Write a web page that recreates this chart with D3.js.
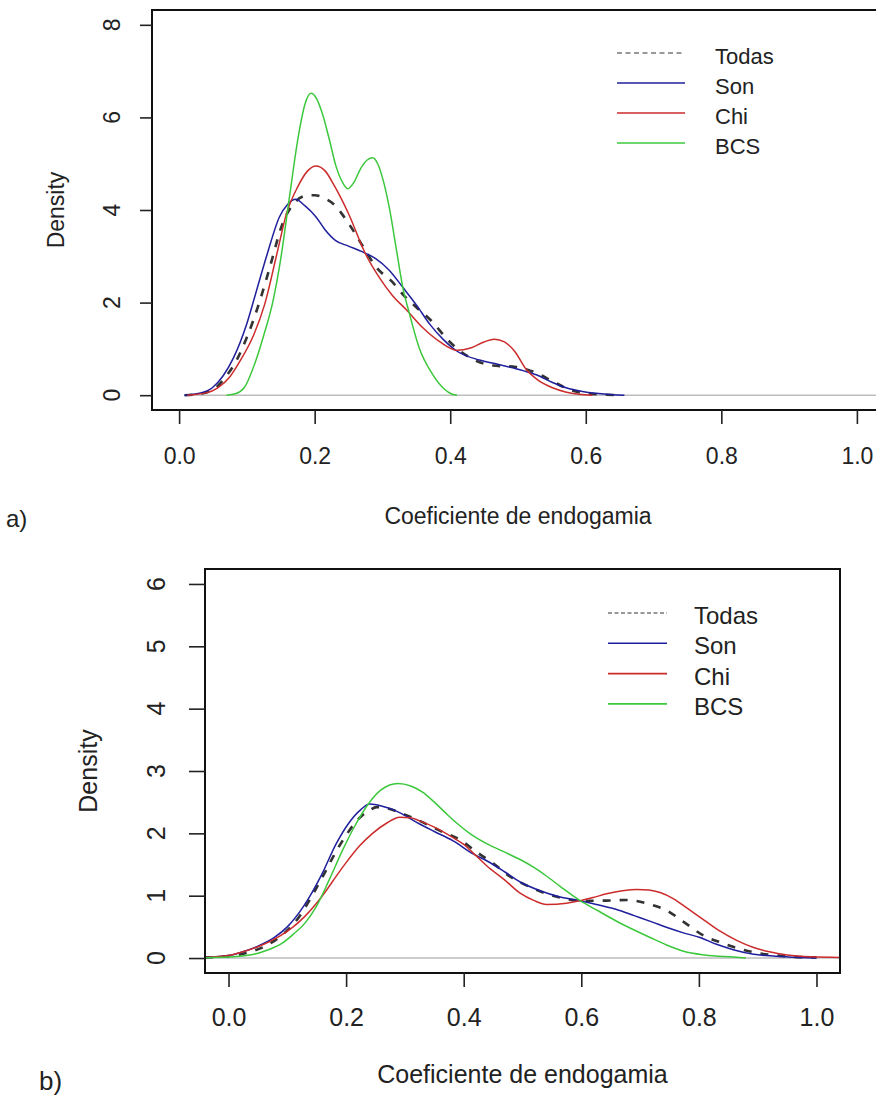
<!DOCTYPE html>
<html>
<head>
<meta charset="utf-8">
<script src="https://cdn.jsdelivr.net/npm/d3@7"></script>
<style>
  body { margin: 0; background: #fff; }
  text { font-family: "Liberation Sans", Arial, sans-serif; fill: #222; }
</style>
</head>
<body>
<div id="chart"></div>
<script>
// tick labels and series names
var xTicks = [0, 0.2, 0.4, 0.6, 0.8, 1.0];
var yTicksA = [0, 2, 4, 6, 8];
var yTicksB = [0, 1, 2, 3, 4, 5, 6];
var seriesNames = ['Todas', 'Son', 'Chi', 'BCS'];
var seriesColors = ['#333333', '#1f1f9e', '#cc2b2b', '#3cc83c'];

// panel a) density curves, [coeficiente, density]
var todasA = [[0.008,0],[0.035,0.04],[0.054,0.16],[0.07,0.42],[0.085,0.76],[0.1,1.25],[0.111,1.68],[0.12,2.08],[0.133,2.72],[0.153,3.72],[0.17,4.15],[0.185,4.3],[0.2,4.32],[0.215,4.25],[0.23,4.1],[0.241,3.9],[0.255,3.6],[0.266,3.34],[0.28,3.0],[0.29,2.78],[0.315,2.44],[0.33,2.18],[0.35,1.9],[0.374,1.58],[0.396,1.2],[0.415,0.95],[0.433,0.78],[0.463,0.64],[0.497,0.61],[0.527,0.48],[0.551,0.3],[0.576,0.12],[0.6,0.04],[0.63,0.01],[0.65,0]];
var sonA = [[0.008,0],[0.03,0.04],[0.049,0.16],[0.065,0.42],[0.08,0.8],[0.1,1.55],[0.115,2.3],[0.13,3.05],[0.148,3.85],[0.16,4.12],[0.172,4.23],[0.185,4.1],[0.202,3.85],[0.215,3.58],[0.231,3.34],[0.25,3.22],[0.27,3.1],[0.29,2.95],[0.31,2.7],[0.33,2.33],[0.35,1.95],[0.37,1.53],[0.39,1.2],[0.409,0.96],[0.443,0.76],[0.47,0.67],[0.492,0.59],[0.51,0.52],[0.527,0.44],[0.55,0.28],[0.571,0.16],[0.595,0.08],[0.615,0.04],[0.64,0.01],[0.657,0]];
var chiA = [[0.012,0],[0.04,0.05],[0.057,0.16],[0.075,0.4],[0.09,0.74],[0.11,1.3],[0.126,1.95],[0.145,3.1],[0.158,3.9],[0.175,4.5],[0.19,4.85],[0.202,4.95],[0.215,4.85],[0.23,4.5],[0.25,3.92],[0.275,3.05],[0.295,2.55],[0.315,2.15],[0.335,1.85],[0.36,1.45],[0.385,1.15],[0.41,0.97],[0.43,1.02],[0.45,1.15],[0.465,1.21],[0.48,1.15],[0.495,0.95],[0.512,0.56],[0.53,0.32],[0.551,0.16],[0.57,0.07],[0.59,0.02],[0.61,0]];
var bcsA = [[0.07,0],[0.083,0.03],[0.096,0.16],[0.113,0.74],[0.125,1.3],[0.138,2.0],[0.15,2.95],[0.163,4.3],[0.176,5.6],[0.186,6.3],[0.1945,6.52],[0.203,6.4],[0.212,6.05],[0.222,5.5],[0.231,4.97],[0.241,4.6],[0.249,4.46],[0.258,4.6],[0.268,4.9],[0.2775,5.08],[0.2856,5.13],[0.293,5.0],[0.30,4.7],[0.31,4.06],[0.32,3.2],[0.33,2.33],[0.34,1.75],[0.354,1.03],[0.374,0.45],[0.39,0.15],[0.403,0.02],[0.41,0]];

// panel b) density curves
var todasB = [[-0.04,0.01],[0.0,0.03],[0.03,0.08],[0.06,0.18],[0.0925,0.38],[0.12,0.66],[0.141,0.98],[0.161,1.32],[0.18,1.66],[0.2,1.97],[0.22,2.22],[0.24,2.37],[0.252,2.42],[0.27,2.4],[0.3,2.3],[0.325,2.2],[0.36,2.04],[0.393,1.9],[0.422,1.7],[0.45,1.52],[0.48,1.3],[0.51,1.15],[0.552,1.0],[0.598,0.92],[0.632,0.92],[0.678,0.93],[0.717,0.86],[0.746,0.76],[0.774,0.58],[0.808,0.36],[0.84,0.24],[0.865,0.16],[0.9,0.08],[0.922,0.05],[0.96,0.02],[1.0,0.01]];
var sonB = [[-0.04,0.01],[0.0,0.04],[0.019,0.085],[0.05,0.19],[0.078,0.33],[0.1,0.5],[0.127,0.82],[0.158,1.33],[0.183,1.83],[0.205,2.17],[0.225,2.38],[0.24,2.47],[0.26,2.44],[0.28,2.38],[0.303,2.27],[0.325,2.15],[0.35,2.03],[0.382,1.88],[0.416,1.67],[0.439,1.56],[0.47,1.38],[0.496,1.22],[0.53,1.08],[0.564,0.98],[0.598,0.92],[0.63,0.85],[0.66,0.78],[0.69,0.68],[0.72,0.58],[0.746,0.49],[0.775,0.4],[0.802,0.33],[0.83,0.22],[0.86,0.13],[0.893,0.06],[0.93,0.03],[0.97,0.01],[1.0,0]];
var chiB = [[-0.04,0.01],[0.0,0.04],[0.019,0.085],[0.05,0.18],[0.087,0.35],[0.11,0.5],[0.129,0.66],[0.149,0.87],[0.166,1.08],[0.183,1.31],[0.2,1.53],[0.223,1.8],[0.245,2.0],[0.27,2.17],[0.291,2.26],[0.31,2.25],[0.325,2.2],[0.35,2.1],[0.382,1.93],[0.399,1.83],[0.42,1.65],[0.439,1.48],[0.47,1.25],[0.496,1.04],[0.52,0.92],[0.541,0.86],[0.575,0.88],[0.598,0.92],[0.62,0.97],[0.643,1.03],[0.67,1.08],[0.695,1.1],[0.715,1.09],[0.734,1.05],[0.757,0.95],[0.78,0.8],[0.81,0.6],[0.836,0.43],[0.865,0.28],[0.893,0.17],[0.92,0.1],[0.95,0.05],[0.99,0.02],[1.04,0.01]];
var bcsB = [[-0.04,0.005],[0.0,0.015],[0.03,0.04],[0.053,0.085],[0.07,0.14],[0.09,0.23],[0.11,0.38],[0.13,0.56],[0.149,0.82],[0.172,1.27],[0.195,1.75],[0.212,2.07],[0.24,2.5],[0.26,2.7],[0.288,2.80],[0.31,2.76],[0.33,2.66],[0.35,2.5],[0.37,2.32],[0.39,2.15],[0.41,2.0],[0.44,1.83],[0.467,1.71],[0.496,1.58],[0.52,1.45],[0.54,1.32],[0.564,1.15],[0.598,0.92],[0.63,0.75],[0.66,0.59],[0.69,0.45],[0.717,0.33],[0.745,0.21],[0.774,0.11],[0.81,0.05],[0.859,0.015],[0.88,0]];

var svgWidth = 876;
var svgHeight = 1099;

var svg = d3.select('#chart')
    .append('svg')
    .attr('width', svgWidth)
    .attr('height', svgHeight);

function drawPanel(p) {
    var x = d3.scaleLinear().domain([-0.04, 1.04]).range([p.left, p.right]);
    var y = d3.scaleLinear().domain(p.yDomain).range([p.bottom, p.top]);
    var g = svg.append('g');

    g.append('clipPath').attr('id', p.id + '-clip')
        .append('rect')
        .attr('x', p.left).attr('y', p.top)
        .attr('width', p.right - p.left).attr('height', p.bottom - p.top);

    var plot = g.append('g').attr('clip-path', `url(#${p.id}-clip)`);

    // zero line
    plot.append('line')
        .attr('x1', x(p.zeroFrom)).attr('x2', p.right)
        .attr('y1', y(0)).attr('y2', y(0))
        .attr('stroke', '#bdbdbd')
        .attr('stroke-width', 1.5);

    var line = d3.line()
        .x(d => x(d[0]))
        .y(d => y(d[1]))
        .curve(d3.curveMonotoneX);

    // Todas first, then the three regions on top
    p.series.forEach(function(s, i) {
        plot.append('path')
            .attr('d', line(s))
            .attr('fill', 'none')
            .attr('stroke', seriesColors[i])
            .attr('stroke-width', i === 0 ? 2.6 : 1.5)
            .attr('stroke-dasharray', i === 0 ? '8,9' : null);
    });

    // frame
    g.append('rect')
        .attr('x', p.left).attr('y', p.top)
        .attr('width', p.right - p.left).attr('height', p.bottom - p.top)
        .attr('fill', 'none')
        .attr('stroke', '#111')
        .attr('stroke-width', 2);

    // x axis
    var bottomAxis = d3.axisBottom(x)
        .tickValues(xTicks)
        .tickSize(14)
        .tickFormat(d3.format('.1f'));
    var xg = g.append('g')
        .attr('transform', `translate(0, ${p.bottom})`)
        .call(bottomAxis);
    xg.select('.domain').remove();
    xg.selectAll('line').attr('stroke', '#222').attr('stroke-width', 1.6);
    xg.selectAll('text')
        .attr('y', p.xLabelBase - p.bottom)
        .attr('dy', 0)
        .style('font-size', p.tickFont + 'px')
        .style('font-family', '"Liberation Sans", Arial, sans-serif')
        .attr('fill', '#222');

    // y axis
    var leftAxis = d3.axisLeft(y)
        .tickValues(p.yTicks)
        .tickSize(p.yTick)
        .tickFormat('');
    var yg = g.append('g')
        .attr('transform', `translate(${p.left}, 0)`)
        .call(leftAxis);
    yg.select('.domain').remove();
    yg.selectAll('line').attr('stroke', '#222').attr('stroke-width', 1.6);

    g.selectAll('.ylab')
        .data(p.yTicks)
        .enter()
        .append('text')
        .attr('transform', d => `translate(${p.yLabelBase}, ${y(d)}) rotate(-90)`)
        .attr('text-anchor', 'middle')
        .style('font-size', p.tickFont + 'px')
        .text(d => d);

    // axis titles
    g.append('text')
        .attr('transform', `translate(${p.densityX}, ${(p.top + p.bottom) / 2}) rotate(-90)`)
        .attr('text-anchor', 'middle')
        .style('font-size', p.labelFont + 'px')
        .text('Density');

    g.append('text')
        .attr('x', (p.left + p.right) / 2)
        .attr('y', p.xTitleBase)
        .attr('text-anchor', 'middle')
        .style('font-size', p.labelFont + 'px')
        .text('Coeficiente de endogamia');

    // legend
    var leg = g.selectAll('.leg')
        .data(seriesNames)
        .enter()
        .append('g')
        .attr('transform', (d, i) => `translate(0, ${p.legY + i * p.legStep})`);
    leg.append('line')
        .attr('x1', p.legX1).attr('x2', p.legX2)
        .attr('stroke', (d, i) => seriesColors[i])
        .attr('stroke-width', (d, i) => i === 0 ? 1.2 : 1.6)
        .attr('stroke-dasharray', (d, i) => i === 0 ? p.legDash : null);
    leg.append('text')
        .attr('x', p.legText)
        .attr('y', 11)
        .style('font-size', p.legFont + 'px')
        .text(d => d);

    // panel tag
    g.append('text')
        .attr('x', p.tagX)
        .attr('y', p.tagY)
        .style('font-size', p.tagFont + 'px')
        .text(p.tag);
}

drawPanel({
    id: 'a', left: 152, right: 884, top: 10, bottom: 410,
    yDomain: [-0.32, 8.32], yTicks: yTicksA, yTick: 12,
    series: [todasA, sonA, chiA, bcsA], zeroFrom: 0.008,
    xLabelBase: 464, yLabelBase: 120, tickFont: 23,
    densityX: 64, labelFont: 23, xTitleBase: 524,
    legX1: 617, legX2: 685, legText: 715, legY: 53, legStep: 30, legFont: 22, legDash: '5,3.5',
    tag: 'a)', tagX: 6, tagY: 527, tagFont: 24
});

drawPanel({
    id: 'b', left: 205, right: 840, top: 569, bottom: 973,
    yDomain: [-0.24, 6.24], yTicks: yTicksB, yTick: 16,
    series: [todasB, sonB, chiB, bcsB], zeroFrom: -0.04,
    xLabelBase: 1026, yLabelBase: 165, tickFont: 25,
    densityX: 97, labelFont: 25, xTitleBase: 1083,
    legX1: 608, legX2: 667, legText: 694, legY: 613, legStep: 30.3, legFont: 24, legDash: '4,2.5',
    tag: 'b)', tagX: 39, tagY: 1090, tagFont: 26
});
</script>
</body>
</html>
